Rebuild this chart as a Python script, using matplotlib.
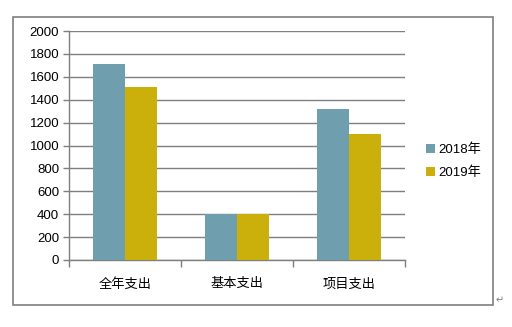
import numpy as np
import matplotlib.pyplot as plt
from matplotlib.patches import Rectangle

plt.rcParams['font.family'] = ['Liberation Sans', 'Noto Sans CJK SC', 'DejaVu Sans']

categories = ["全年支出", "基本支出", "项目支出"]
series_names = ["2018年", "2019年"]
values_2018 = [1715, 400, 1320]
values_2019 = [1515, 400, 1100]
yticks = [0, 200, 400, 600, 800, 1000, 1200, 1400, 1600, 1800, 2000]

c2018 = "#6f9fae"
c2019 = "#cbb00c"
grid_c = "#7f7f7f"

W, H = 512, 327
fig = plt.figure(figsize=(W / 100, H / 100), dpi=100)

# outer chart frame
fig.patches.append(Rectangle((13 / W, 1 - 305 / H), (493 - 13) / W, (305 - 17) / H,
                             transform=fig.transFigure, fill=False,
                             edgecolor=grid_c, linewidth=1.2))

ax = fig.add_axes([69 / W, 1 - 260 / H, (405 - 69) / W, (260 - 31) / H])

x = np.arange(len(categories))
bw = 0.286
ax.bar(x - bw / 2, values_2018, bw, color=c2018, label=series_names[0], zorder=3)
ax.bar(x + bw / 2, values_2019, bw, color=c2019, label=series_names[1], zorder=3)

ax.set_xlim(-0.5, len(categories) - 0.5)
ax.set_ylim(0, 2000)
ax.set_yticks(yticks)
ax.set_yticklabels([str(v) for v in yticks], fontsize=9.5)
ax.yaxis.grid(True, color=grid_c, linewidth=1.0, zorder=0)
ax.set_axisbelow(True)

ax.set_xticks(np.arange(len(categories) + 1) - 0.5)
ax.set_xticklabels([])
ax.set_xticks(x, minor=True)
ax.set_xticklabels(categories, minor=True, fontsize=9.5)
ax.tick_params(axis='x', which='minor', length=0, pad=13)
ax.tick_params(axis='x', which='major', length=5, color=grid_c, width=1)
ax.tick_params(axis='y', length=4, color=grid_c, width=1, pad=3)

for s in ["top", "right"]:
    ax.spines[s].set_visible(False)
for s in ["left", "bottom"]:
    ax.spines[s].set_color(grid_c)
    ax.spines[s].set_linewidth(1.0)

ax.legend(loc="center left", bbox_to_anchor=(1.063, 0.43), frameon=False,
          fontsize=9.5, handlelength=0.65, handleheight=0.65, handletextpad=0.3,
          labelspacing=0.8, borderaxespad=0, borderpad=0)

fig.text(500 / W, 1 - 300 / H, "↵", fontsize=7, color="#808080",
         ha="center", va="center", family="DejaVu Sans")

fig.savefig("out.png", dpi=100)
